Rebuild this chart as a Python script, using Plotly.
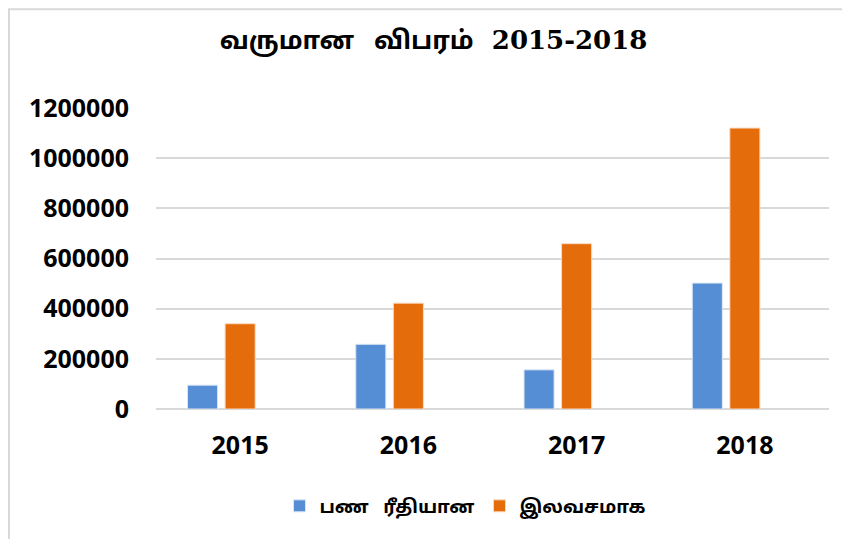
import plotly.graph_objects as go

years = ["2015", "2016", "2017", "2018"]
cash_values = [95000, 258000, 156000, 502000]
free_values = [340000, 422000, 659000, 1120000]
series_names = ["பண\u00a0\u00a0 ரீதியான", "இலவசமாக"]
y_ticks = [0, 200000, 400000, 600000, 800000, 1000000, 1200000]

L, T, PW, PH = 148, 100, 673, 301.5

fig = go.Figure()
fig.add_trace(go.Bar(x=years, y=cash_values, name=series_names[0],
                     marker=dict(color="#558ED5", line=dict(color="#DCE6F2", width=1))))
fig.add_trace(go.Bar(x=years, y=free_values, name=series_names[1],
                     marker=dict(color="#E46C0A", line=dict(color="#FAD9BE", width=1))))
fig.add_trace(go.Bar(x=years, y=[None] * len(years), name="", showlegend=False,
                     hoverinfo="skip"))

title_text = ("<b><span style='font-family:Noto Sans Tamil, Noto Sans, sans-serif;font-size:25.5px'>"
              "வருமான\u00a0\u00a0 விபரம்</span>\u00a0 "
              "<span style='font-family:DejaVu Serif, serif;font-size:26px'>2015-2018</span></b>")

fig.update_layout(
    width=850, height=539,
    paper_bgcolor="white", plot_bgcolor="white",
    margin=dict(l=L, r=850 - L - PW, t=T, b=539 - T - PH),
    barmode="group", bargap=0.33, bargroupgap=0.2,
    title=dict(text=title_text, x=0.5006, xanchor="center",
               y=0.94, yanchor="middle",
               font=dict(family="DejaVu Serif, serif", size=26, color="black")),
    legend=dict(orientation="h", x=(457 - L) / PW, xanchor="center",
                y=(T + PH - 499) / PH, yanchor="middle",
                font=dict(family="Noto Sans Tamil, Noto Sans, sans-serif", size=18.5,
                          weight="bold", color="black"),
                itemwidth=30, traceorder="normal"),
    font=dict(family="Open Sans, sans-serif", color="black"),
)
fig.update_xaxes(showgrid=False, showline=False, zeroline=False,
                 tickfont=dict(family="Open Sans, sans-serif", size=25, weight="bold", color="black"),
                 ticklabelstandoff=19)
fig.update_yaxes(range=[0, 1200000], tickvals=y_ticks, ticktext=[str(v) for v in y_ticks],
                 showgrid=True, gridcolor="#D9D9D9", gridwidth=1.5,
                 zeroline=True, zerolinecolor="#D9D9D9", zerolinewidth=1.5,
                 tickfont=dict(family="Open Sans, sans-serif", size=25, weight="bold", color="black"),
                 ticklabelstandoff=26)

# chart-area border (top and left edges)
fig.add_shape(type="line", xref="paper", yref="paper",
              x0=-L / PW, x1=(850 - L) / PW, y0=1 + (T - 1) / PH, y1=1 + (T - 1) / PH,
              line=dict(color="#D9D9D9", width=2))
fig.add_shape(type="line", xref="paper", yref="paper",
              x0=(1 - L) / PW, x1=(1 - L) / PW, y0=1 + (T - 1) / PH, y1=-(539 - T - PH) / PH,
              line=dict(color="#D9D9D9", width=2))

fig.write_html("out.html")
